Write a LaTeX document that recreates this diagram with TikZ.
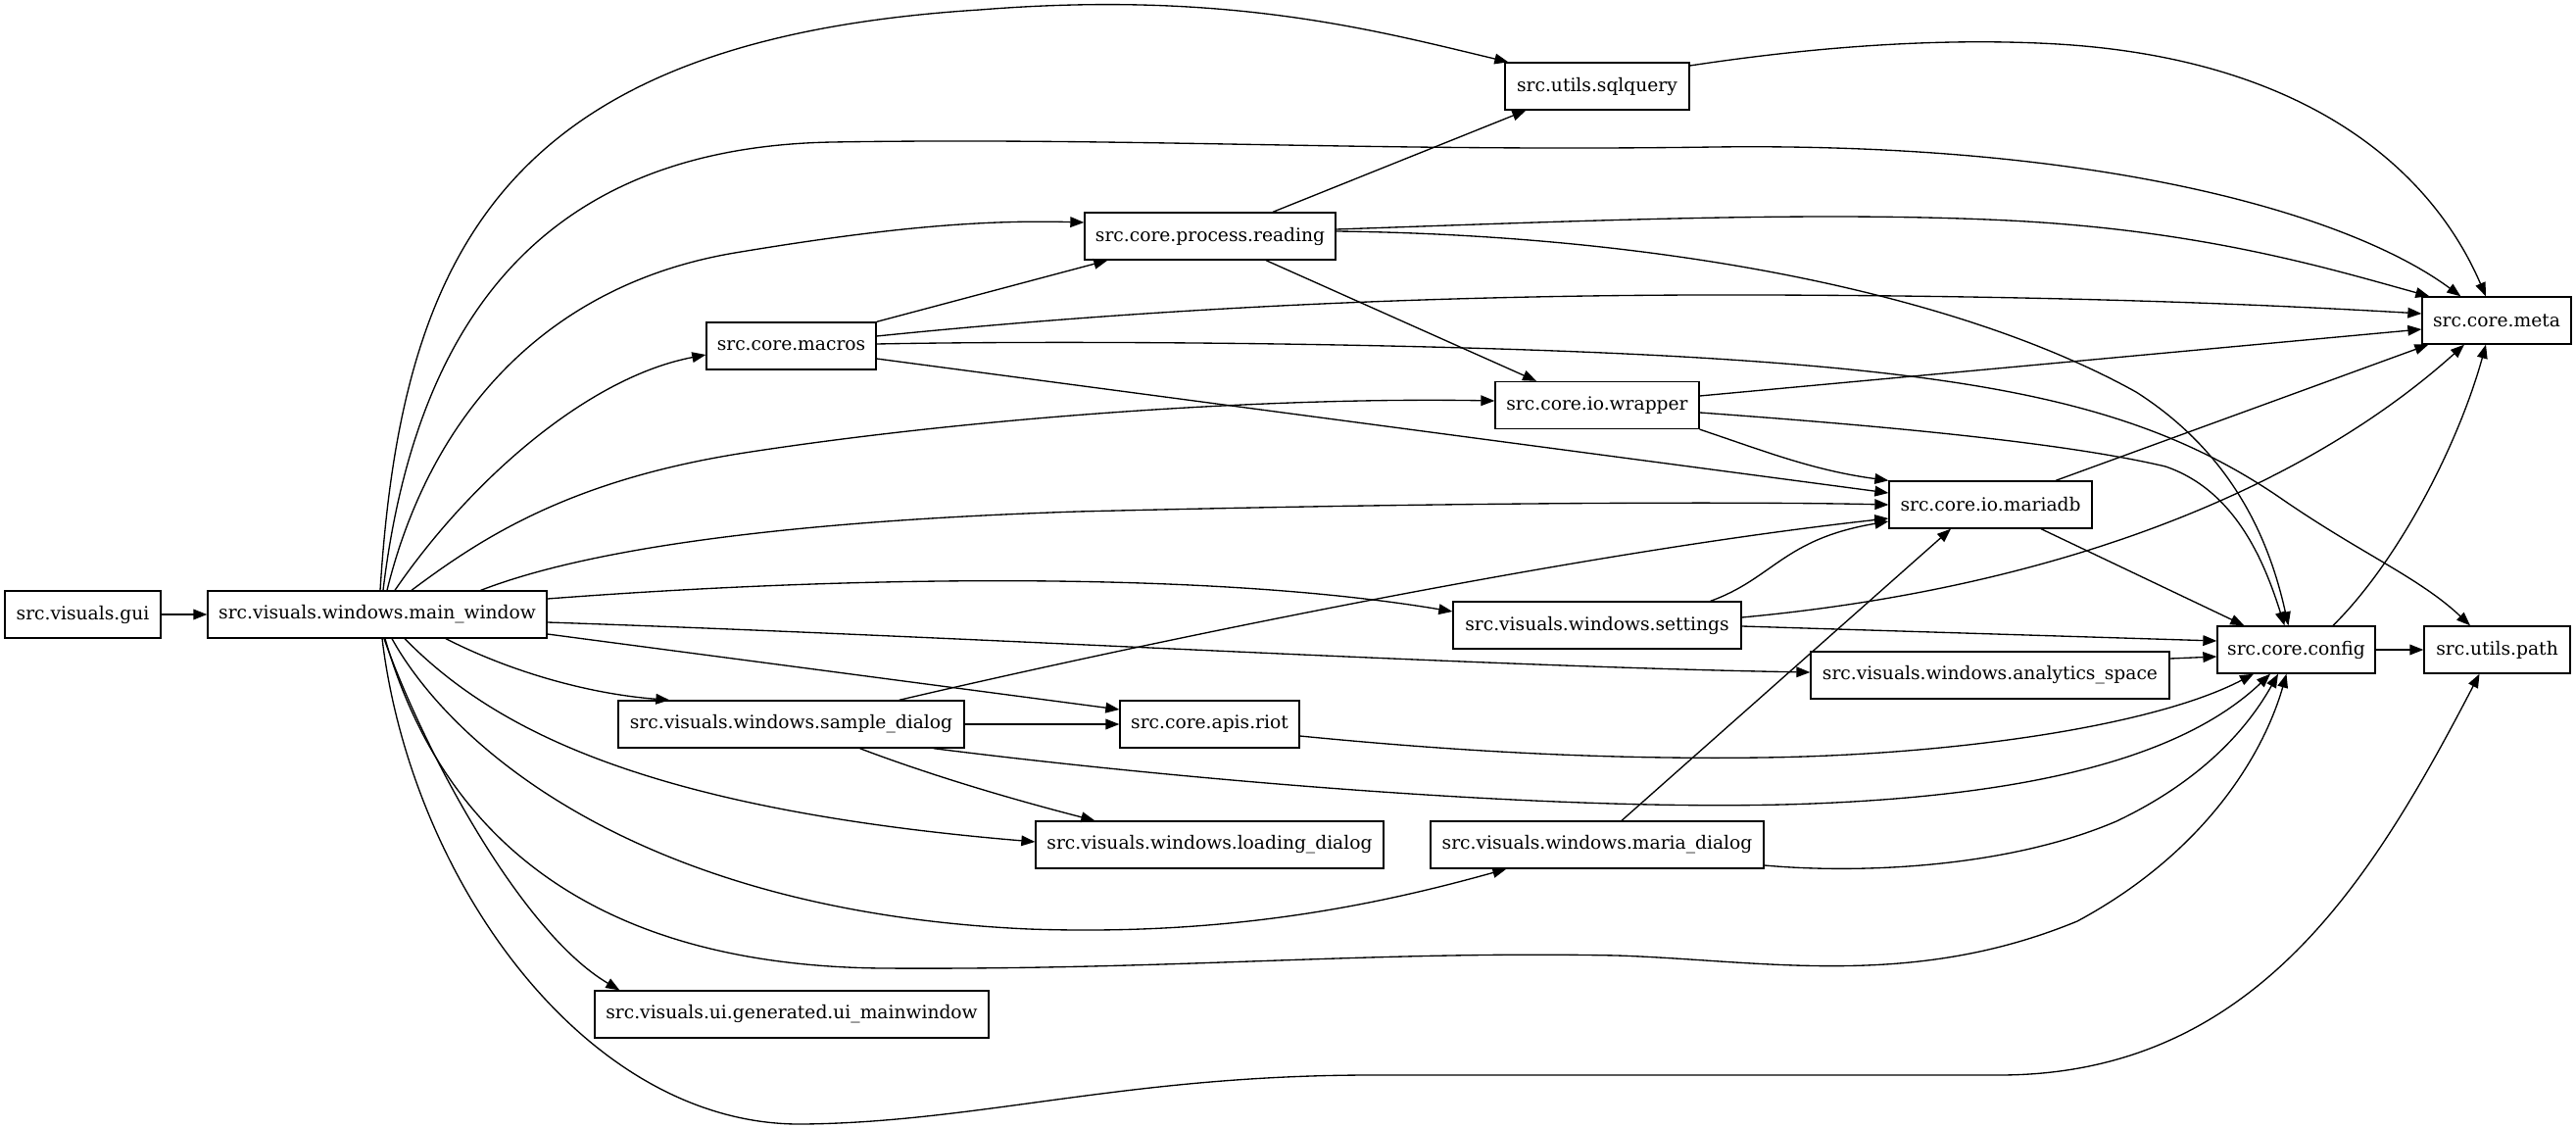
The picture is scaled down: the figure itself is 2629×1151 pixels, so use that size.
\documentclass[tikz,border=0pt]{standalone}
\usepackage{fontspec}
\setmainfont{DejaVu Serif}
\usetikzlibrary{arrows.meta}
\begin{document}
\begin{tikzpicture}[x=0.75pt,y=-0.75pt,
  modbox/.style={draw, line width=1pt, rectangle, minimum height=36pt, inner sep=0pt, font=\fontsize{14}{16}\selectfont},
  dep/.style={draw, line width=1pt, -{Triangle[length=10.5pt,width=8pt]}}]
\useasboundingbox (0,0) rectangle (2629,1151);
% nodes
\node[modbox, minimum width=119.25pt] (gui) at (84.5,627) {src.visuals.gui};
\node[modbox, minimum width=259.5pt] (main) at (385,627) {src.visuals.windows.main\_window};
\node[modbox, minimum width=141pt] (sql) at (1630,88) {src.utils.sqlquery};
\node[modbox, minimum width=192pt] (read) at (1235,241) {src.core.process.reading};
\node[modbox, minimum width=129.75pt] (macros) at (807.5,353) {src.core.macros};
\node[modbox, minimum width=156pt] (wrap) at (1630,413.5) {src.core.io.wrapper};
\node[modbox, minimum width=114pt] (meta) at (2548,327) {src.core.meta};
\node[modbox, minimum width=155.25pt] (maria) at (2031.5,515) {src.core.io.mariadb};
\node[modbox, minimum width=220.5pt] (sett) at (1630,638) {src.visuals.windows.settings};
\node[modbox, minimum width=120.75pt] (config) at (2343.5,663) {src.core.config};
\node[modbox, minimum width=111.75pt] (path) at (2548.5,663) {src.utils.path};
\node[modbox, minimum width=274.5pt] (anal) at (2031,689) {src.visuals.windows.analytics\_space};
\node[modbox, minimum width=264.75pt] (sample) at (807.5,739) {src.visuals.windows.sample\_dialog};
\node[modbox, minimum width=137.25pt] (riot) at (1234.5,739) {src.core.apis.riot};
\node[modbox, minimum width=266.25pt] (loading) at (1234.5,862) {src.visuals.windows.loading\_dialog};
\node[modbox, minimum width=255pt] (mdlg) at (1630,862) {src.visuals.windows.maria\_dialog};
\node[modbox, minimum width=301.5pt] (ui) at (808,1035) {src.visuals.ui.generated.ui\_mainwindow};
% edges from gui / main
\draw[dep] (gui) -- (main);
\draw[dep] ([shift={(3,0)}]main.north) .. controls (410,250) and (520,40) .. (1000,10) .. controls (1250,-10) and (1400,30) .. ([shift={(4,0)}]sql.north west);
\draw[dep] ([shift={(6,0)}]main.north) .. controls (425,320) and (560,150) .. (850,145) .. controls (1150,140) and (1400,155) .. (1750,150) .. controls (2150,145) and (2400,220) .. ([shift={(40,0)}]meta.north west);
\draw[dep] ([shift={(10,0)}]main.north) .. controls (440,420) and (560,290) .. (750,258) .. controls (900,233) and (1000,224) .. ([shift={(0,-14)}]read.west);
\draw[dep] ([shift={(18,0)}]main.north) .. controls (480,490) and (600,385) .. ([shift={(0,9)}]macros.west);
\draw[dep] ([shift={(35,0)}]main.north) .. controls (490,550) and (580,490) .. (760,462) .. controls (1000,425) and (1300,405) .. ([shift={(0,-4.5)}]wrap.west);
\draw[dep] ([shift={(-68,0)}]main.north east) .. controls (600,560) and (800,532) .. (1100,522) .. controls (1500,512) and (1800,512) .. (maria.west);
\draw[dep] ([shift={(0,-16)}]main.east) .. controls (900,585) and (1250,585) .. ([shift={(0,-14)}]sett.west);
\draw[dep] ([shift={(0,8)}]main.east) .. controls (1000,650) and (1500,680) .. ([shift={(0,-3)}]anal.west);
\draw[dep] ([shift={(0,20)}]main.east) -- ([shift={(0,-15)}]riot.west);
\draw[dep] ([shift={(70,0)}]main.south) .. controls (520,685) and (600,708) .. ([shift={(53,0)}]sample.north west);
\draw[dep] ([shift={(28,0)}]main.south) .. controls (500,740) and (650,825) .. ([shift={(0,-3)}]loading.west);
\draw[dep] ([shift={(15,0)}]main.south) .. controls (460,760) and (650,930) .. (1050,948) .. controls (1250,955) and (1400,925) .. ([shift={(78,0)}]mdlg.south west);
\draw[dep] ([shift={(8,0)}]main.south) .. controls (450,850) and (600,985) .. (900,988) .. controls (1200,990) and (1400,970) .. (1650,975) .. controls (1800,980) and (1950,1010) .. (2120,940) .. controls (2250,870) and (2310,770) .. ([shift={(-10,0)}]config.south);
\draw[dep] ([shift={(7,0)}]main.south) .. controls (430,760) and (530,950) .. ([shift={(26,0)}]ui.north west);
\draw[dep] ([shift={(5,0)}]main.south) .. controls (420,900) and (600,1150) .. (820,1147) .. controls (1000,1145) and (1150,1097) .. (1400,1097) -- (2040,1097) .. controls (2300,1097) and (2420,900) .. ([shift={(-18,0)}]path.south);
% other edges
\draw[dep] ([shift={(0,-21)}]sql.east) .. controls (1850,48) and (1980,38) .. (2100,45) .. controls (2350,60) and (2480,170) .. ([shift={(-11,0)}]meta.north);
\draw[dep] ([shift={(64,0)}]read.north) -- ([shift={(22,0)}]sql.south west);
\draw[dep] ([shift={(0,-7)}]read.east) .. controls (1600,226) and (1850,215) .. (2050,225) .. controls (2250,235) and (2380,275) .. ([shift={(8,0)}]meta.north west);
\draw[dep] ([shift={(0,-5)}]read.east) .. controls (1700,240) and (2000,300) .. (2180,400) .. controls (2290,470) and (2320,570) .. ([shift={(-8,0)}]config.north);
\draw[dep] ([shift={(57,0)}]read.south) -- ([shift={(-62,0)}]wrap.north);
\draw[dep] (macros.north east) -- ([shift={(24,0)}]read.south west);
\draw[dep] ([shift={(0,-10)}]macros.east) .. controls (1200,312) and (1500,300) .. (1800,301) .. controls (2100,302) and (2300,310) .. ([shift={(0,-7)}]meta.west);
\draw[dep] ([shift={(0,13)}]macros.east) -- ([shift={(0,-12)}]maria.west);
\draw[dep] ([shift={(0,-2)}]macros.east) .. controls (1100,347) and (1500,350) .. (1750,366) .. controls (2050,385) and (2200,420) .. (2330,510) .. controls (2410,565) and (2470,590) .. ([shift={(-27.5,0)}]path.north);
\draw[dep] ([shift={(0,-9.5)}]wrap.east) -- ([shift={(0,9)}]meta.west);
\draw[dep] (wrap.south east) .. controls (1800,460) and (1850,480) .. (maria.north west);
\draw[dep] ([shift={(0,7.5)}]wrap.east) .. controls (1900,433) and (2100,450) .. (2210,476) .. controls (2280,500) and (2310,570) .. ([shift={(-12,0)}]config.north);
\draw[dep] ([shift={(66.5,0)}]maria.north) -- ([shift={(7,0)}]meta.south west);
\draw[dep] ([shift={(51.5,0)}]maria.south) -- ([shift={(28,0)}]config.north west);
\draw[dep] ([shift={(-32,0)}]sett.north east) .. controls (1810,590) and (1820,550) .. ([shift={(0,17)}]maria.west);
\draw[dep] ([shift={(0,-8)}]sett.east) .. controls (2100,600) and (2350,500) .. ([shift={(-33,0)}]meta.south);
\draw[dep] ([shift={(0,1)}]sett.east) -- ([shift={(0,-9)}]config.west);
\draw[dep] ([shift={(0,-17)}]anal.east) -- ([shift={(0,7)}]config.west);
\draw[dep] (config) -- (path);
\draw[dep] ([shift={(37.5,0)}]config.north) .. controls (2450,570) and (2510,450) .. ([shift={(-11,0)}]meta.south);
\draw[dep] ([shift={(-67,0)}]sample.north east) .. controls (1150,660) and (1600,565) .. ([shift={(0,14)}]maria.west);
\draw[dep] (sample) -- (riot);
\draw[dep] ([shift={(70,0)}]sample.south) .. controls (960,795) and (1050,820) .. ([shift={(61,0)}]loading.north west);
\draw[dep] ([shift={(-32,0)}]sample.south east) .. controls (1200,795) and (1600,830) .. (1850,820) .. controls (2050,812) and (2220,780) .. ([shift={(-26.5,0)}]config.south);
\draw[dep] ([shift={(0,12)}]riot.east) .. controls (1500,768) and (1650,775) .. (1800,773) .. controls (2000,770) and (2200,740) .. ([shift={(-43.5,0)}]config.south);
\draw[dep] ([shift={(25,0)}]mdlg.north) -- ([shift={(-40.5,0)}]maria.south);
\draw[dep] ([shift={(0,21)}]mdlg.east) .. controls (1900,892) and (2050,885) .. (2160,838) .. controls (2240,800) and (2290,750) .. ([shift={(-18.5,0)}]config.south);
\end{tikzpicture}
\end{document}
